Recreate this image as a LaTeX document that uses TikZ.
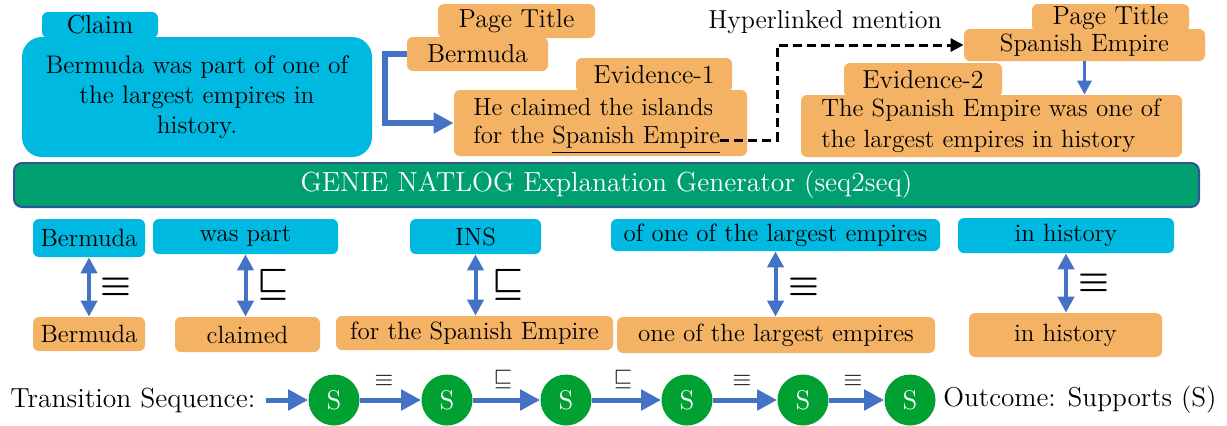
\documentclass[tikz,border=0pt]{standalone}
\usepackage{amsmath,amssymb,bm}
\usetikzlibrary{arrows.meta}
\definecolor{cyanb}{RGB}{0,185,225}
\definecolor{orangeb}{RGB}{243,178,100}
\definecolor{greenb}{RGB}{0,160,110}
\definecolor{bordb}{RGB}{47,85,151}
\definecolor{arrowb}{RGB}{68,114,196}
\definecolor{circg}{RGB}{0,160,50}
\tikzset{
  cbox/.style={fill=cyanb, rounded corners=3pt, inner sep=0pt},
  obox/.style={fill=orangeb, rounded corners=3pt, inner sep=0pt},
  rowtxt/.style={font=\fontsize{12.5}{15}\selectfont},
  txt/.style={inner sep=0pt},
  dbl/.style={arrowb, line width=2pt, {Triangle[length=8pt,width=8pt]}-{Triangle[length=8pt,width=8pt]}},
  bigsym/.style={inner sep=0pt, font=\fontsize{18}{18}\selectfont},
  smallsym/.style={inner sep=0pt, font=\fontsize{13}{13}\selectfont},
  tarr/.style={arrowb, line width=2.5pt, -{Triangle[length=10pt,width=10pt]}},
  stc/.style={circle, fill=circg, minimum size=25.5pt, inner sep=0pt, text=white, font=\fontsize{13.5}{15}\selectfont}
}
\begin{document}
\begin{tikzpicture}[x=0.5pt,y=-0.5pt, font=\fontsize{13}{15}\selectfont]
\useasboundingbox (0,0) rectangle (1227,425);

% Claim
\node[cbox, minimum width=58pt, minimum height=13pt] (claimtab) at (100,25) {Claim};
\node[cbox, rounded corners=10pt, minimum width=175pt, minimum height=60pt, align=center, font=\fontsize{12.7}{15}\selectfont] (claim) at (197,97)
  {Bermuda was part of one of\\the largest empires in\\history.};

% Page title Bermuda
\node[obox, minimum width=78.5pt, minimum height=17pt] (pt1) at (516.5,21) {Page Title};
\node[obox, minimum width=70.5pt, minimum height=17pt] (pb) at (477.5,54) {Bermuda};

% Evidence-1
\node[obox, minimum width=78pt, minimum height=17pt] (e1tab) at (654,75) {Evidence-1};
\node[obox, minimum width=146.5pt, minimum height=33pt] (e1) at (600.5,123) {};
\node[txt, anchor=west, font=\fontsize{12.4}{15}\selectfont] (e1l1) at (473,107) {He claimed the islands};
\node[txt, anchor=west, font=\fontsize{12.4}{15}\selectfont] (e1l2) at (473,140) {for the \underline{Spanish Empire}};

% Page title Spanish Empire
\node[obox, minimum width=78.5pt, minimum height=14pt] (pt2) at (1110.5,18) {Page Title};
\node[obox, minimum width=120.5pt, minimum height=16pt, font=\fontsize{12.5}{15}\selectfont] (se) at (1084.5,45) {Spanish Empire};

% Evidence-2
\node[obox, minimum width=79pt, minimum height=17pt] (e2tab) at (923,80) {Evidence-2};
\node[obox, minimum width=190.5pt, minimum height=31pt] (e2) at (991.5,126) {};
\node[txt, anchor=west, font=\fontsize{12.5}{15}\selectfont] (e2l1) at (821,110) {The Spanish Empire was one of};
\node[txt, anchor=west, font=\fontsize{12.5}{15}\selectfont] (e2l2) at (821,141) {the largest empires in history};

\node[txt] (hyp) at (825,22) {Hyperlinked mention};

% connectors top
\draw[arrowb, line width=3pt, -{Triangle[length=10pt,width=10pt]}] (pb.west) -- ++(-22,0) |- (e1.west);
\draw[black, line width=1.5pt, dash pattern=on 4.5pt off 2.5pt, -{Triangle[length=6.5pt,width=6.5pt]}] (e1l2.east) -- ++(57,0) |- (se.west);
\draw[arrowb, line width=1.6pt, -{Triangle[length=7pt,width=7pt]}] (se.south) -- (se.south |- e2.north);

% Banner
\node[fill=greenb, draw=bordb, line width=1pt, rounded corners=4pt, minimum width=592.5pt, minimum height=22pt, inner sep=0pt, text=white, font=\fontsize{13.8}{15}\selectfont] (gen) at (606.5,185) {GENIE NATLOG Explanation Generator (seq2seq)};

% top row
\node[cbox, rowtxt, minimum width=56pt, minimum height=19pt] (t1) at (89,238) {Bermuda};
\node[cbox, rowtxt, minimum width=92.5pt, minimum height=17.5pt] (t2) at (245.5,236.5) {was part};
\node[cbox, rowtxt, minimum width=65.5pt, minimum height=17.5pt] (t3) at (475.5,236.5) {INS};
\node[cbox, rowtxt, minimum width=164.5pt, minimum height=16pt] (t4) at (775.5,235) {of one of the largest empires};
\node[cbox, rowtxt, minimum width=108pt, minimum height=17.5pt] (t5) at (1066,235.5) {in history};

% bottom row
\node[obox, rowtxt, minimum width=56pt, minimum height=17pt] (b1) at (89,334) {Bermuda};
\node[obox, rowtxt, minimum width=72.5pt, minimum height=17.5pt] (b2) at (247.5,334.5) {claimed};
\node[obox, rowtxt, minimum width=138.5pt, minimum height=17pt] (b3) at (474.5,333) {for the Spanish Empire};
\node[obox, rowtxt, minimum width=159pt, minimum height=18pt] (b4) at (776,335) {one of the largest empires};
\node[obox, rowtxt, minimum width=96.5pt, minimum height=22pt] (b5) at (1065.5,335) {in history};

% double arrows
\draw[dbl] (t1.south) -- (b1.north);
\draw[dbl] (t2.south) -- (t2.south |- b2.north);
\draw[dbl] (t3.south) -- (t3.south |- b3.north);
\draw[dbl] (t4.south) -- (t4.south |- b4.north);
\draw[dbl] (t5.south) -- (t5.south |- b5.north);

\node[bigsym] (r1) at (116,287) {$\bm{\equiv}$};
\node[bigsym] (r2) at (273,285) {$\bm{\sqsubseteq}$};
\node[bigsym] (r3) at (508,285) {$\bm{\sqsubseteq}$};
\node[bigsym] (r4) at (804,287) {$\bm{\equiv}$};
\node[bigsym] (r5) at (1094,283) {$\bm{\equiv}$};

% transition sequence
\node[txt, anchor=west, font=\fontsize{13.8}{15}\selectfont] (ts) at (10,400) {Transition Sequence:};
\node[stc] (s1) at (334,400) {S};
\node[stc] (s2) at (447,400) {S};
\node[stc] (s3) at (566,400) {S};
\node[stc] (s4) at (687,400) {S};
\node[stc] (s5) at (803,400) {S};
\node[stc] (s6) at (910,400) {S};
\node[txt, anchor=west, font=\fontsize{13.6}{15}\selectfont] (out) at (943,400) {Outcome: Supports (S)};

\draw[tarr, shorten <=5pt] (ts.east) -- (s1.west);
\draw[tarr] (s1.east) -- (s2.west);
\draw[tarr] (s2.east) -- (s3.west);
\draw[tarr] (s3.east) -- (s4.west);
\draw[tarr] (s4.east) -- (s5.west);
\draw[tarr] (s5.east) -- (s6.west);

\node[smallsym] (q1) at (384,381) {$\equiv$};
\node[smallsym] (q2) at (503,379) {$\sqsubseteq$};
\node[smallsym] (q3) at (623,379) {$\sqsubseteq$};
\node[smallsym] (q4) at (742,381) {$\equiv$};
\node[smallsym] (q5) at (853,381) {$\equiv$};
\end{tikzpicture}
\end{document}
